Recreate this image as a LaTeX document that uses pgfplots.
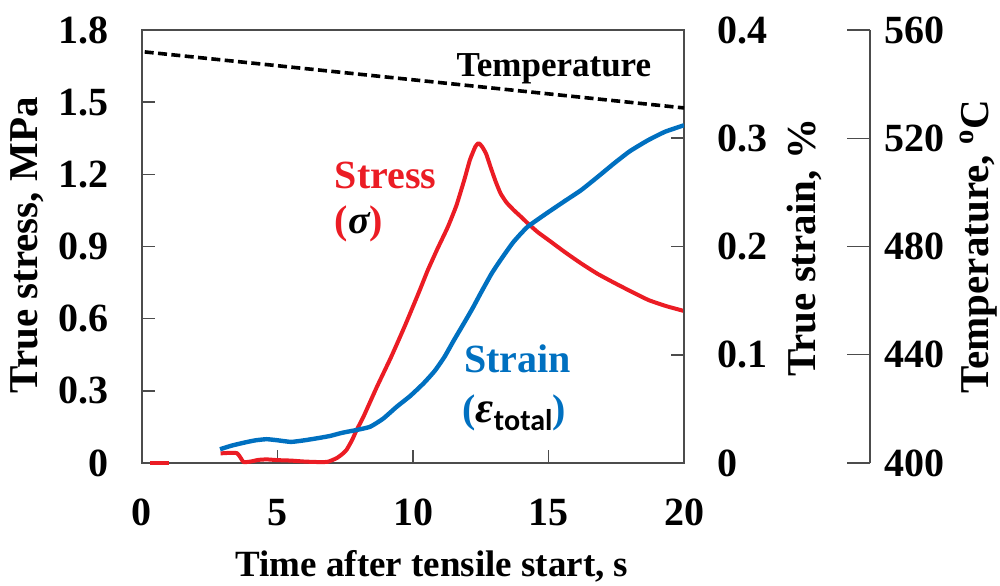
\documentclass[border=0pt]{standalone}
\usepackage{pgfplots}
\pgfplotsset{compat=1.18}
\usepackage{fontspec}
\setmainfont{Liberation Serif}
\newfontfamily\carlito{Carlito}
\definecolor{sred}{RGB}{235,28,36}
\definecolor{sblue}{RGB}{0,112,192}
\newcommand{\tickfont}{\fontsize{20}{24}\selectfont\bfseries}
\newcommand{\labfont}{\fontsize{20.5}{24}\selectfont\bfseries}
\newcommand{\xlabfont}{\fontsize{18.5}{22}\selectfont\bfseries}
\newcommand{\tempfont}{\fontsize{17.5}{21}\selectfont\bfseries}
\newcommand{\annfont}{\fontsize{20}{24}\selectfont\bfseries}
\pgfplotsset{common/.style={width=271pt,height=216.5pt,scale only axis,xmin=0,xmax=20,
  axis line style={black!70,line width=0.8pt}, tick style={black!70,line width=0.8pt},
  tick align=inside, major tick length=6.5pt,
  tick label style={font=\tickfont}, label style={font=\labfont}}}
\begin{document}
\begin{tikzpicture}
% ---- main axis: stress
\begin{axis}[common, ymin=0, ymax=1.8,
  xtick={0,5,10,15,20}, xticklabels={0,5,10,15,20},
  ytick={0,0.3,0.6,0.9,1.2,1.5,1.8}, yticklabels={0,0.3,0.6,0.9,1.2,1.5,1.8},
  xtick pos=bottom, ytick pos=left,
  yticklabel style={xshift=-13pt}, xticklabel style={yshift=-14.5pt},
  xlabel={Time after tensile start, s},
  xlabel style={font=\xlabfont, at={(axis description cs:0.535,-0.262)}, anchor=base},
  ylabel={True stress, MPa},
  ylabel style={at={(axis description cs:-0.2122,0.503)}, anchor=center},
  clip=false]
\addplot[sred, line width=2pt] coordinates {(0.3,0) (1.0,0)};
\addplot[sred, line width=2pt, line join=round, smooth, tension=0.3] coordinates {
(2.9,0.040) (3.2,0.042) (3.5,0.041) (3.62,0.025) (3.75,0.004) (4.0,0.006) (4.3,0.013)
(4.6,0.015) (5.0,0.012) (5.5,0.010) (6.0,0.006) (6.5,0.004) (6.85,0.005) (7.18,0.020)
(7.4,0.038) (7.55,0.055) (7.75,0.095) (7.92,0.137) (8.17,0.192) (8.67,0.317) (9.19,0.440)
(9.7,0.570) (10.2,0.705) (10.54,0.800) (10.9,0.890) (11.28,0.980) (11.6,1.070)
(11.9,1.180) (12.1,1.260) (12.3,1.315) (12.42,1.330) (12.55,1.315) (12.7,1.285)
(12.86,1.231) (13.05,1.170) (13.23,1.121) (13.45,1.083) (13.73,1.050) (14.0,1.022)
(14.22,0.998) (14.6,0.960) (15.0,0.927) (15.6,0.877) (16.2,0.830) (16.8,0.787)
(17.46,0.747) (18.1,0.710) (18.7,0.677) (19.35,0.652) (20.0,0.632)};
\node[font=\annfont, text=sred, anchor=base west] at (axis cs:6.86,1.143) {Stress};
\node[font=\annfont, text=sred, anchor=base west] at (axis cs:6.86,0.956) {({\color{black}\itshape σ})};
\node[font=\annfont, text=sblue, anchor=base west] at (axis cs:11.63,0.375) {Strain};
\node[font=\annfont, text=sblue, anchor=base west] at (axis cs:11.57,0.170)
  {({\color{black}\fontsize{22}{24}\selectfont\itshape ε\raisebox{-0.2em}{\carlito\fontsize{15}{17}\selectfont\bfseries\upshape total}})};
\node[font=\tempfont, anchor=base] at (axis cs:15.2,1.606) {Temperature};
\end{axis}
% ---- strain axis
\begin{axis}[common, ymin=0, ymax=0.4, hide x axis, axis y line*=right,
  ytick={0,0.1,0.2,0.3,0.4}, yticklabels={0,0.1,0.2,0.3,0.4},
  yticklabel style={xshift=13pt},
  ylabel={True strain, \%},
  ylabel style={at={(axis description cs:1.223,0.497)}, anchor=center}]
\addplot[sblue, line width=2.2pt, line join=round, smooth, tension=0.3] coordinates {
(2.88,0.0127) (3.3,0.016) (3.8,0.019) (4.2,0.021) (4.6,0.022) (5.0,0.021) (5.5,0.0195)
(6.0,0.021) (6.5,0.023) (6.94,0.025) (7.4,0.028) (7.92,0.0305) (8.42,0.0335) (8.9,0.041)
(9.4,0.052) (9.9,0.062) (10.39,0.0736) (10.8,0.085) (11.16,0.098) (11.5,0.113)
(11.9,0.130) (12.2,0.143) (12.5,0.157) (12.9,0.175) (13.23,0.1875) (13.7,0.204)
(14.22,0.218) (14.95,0.231) (15.6,0.242) (16.2,0.252) (16.8,0.264) (17.43,0.277)
(18.0,0.288) (18.66,0.298) (19.3,0.306) (20.0,0.312)};
\end{axis}
% ---- temperature data (hidden axes)
\begin{axis}[common, ymin=400, ymax=560, hide x axis, hide y axis]
\addplot[black, line width=1.8pt, dash pattern=on 4.5pt off 2.2pt] coordinates {
(0.1,551.9) (5,546.8) (10,541.6) (15,536.4) (20,531.2)};
\end{axis}
% ---- temperature scale
\begin{axis}[at={(354pt,0)}, width=10pt, height=216.5pt, scale only axis,
  xmin=0, xmax=1, ymin=400, ymax=560, hide x axis, axis y line*=right,
  axis line style={black!70,line width=0.6pt}, tick style={black!70,line width=0.6pt},
  tick align=inside, major tick length=11.5pt,
  ytick={400,440,480,520,560}, yticklabels={400,440,480,520,560},
  yticklabel style={xshift=3.5pt},
  tick label style={font=\tickfont}, label style={font=\labfont},
  ylabel={Temperature, \textsuperscript{o}C},
  ylabel style={at={(axis description cs:6.45,0.5)}, anchor=center}]
\end{axis}
\pgfresetboundingbox
\path[use as bounding box] (-71pt,-61pt) rectangle (429pt,231.5pt);
\end{tikzpicture}
\end{document}
